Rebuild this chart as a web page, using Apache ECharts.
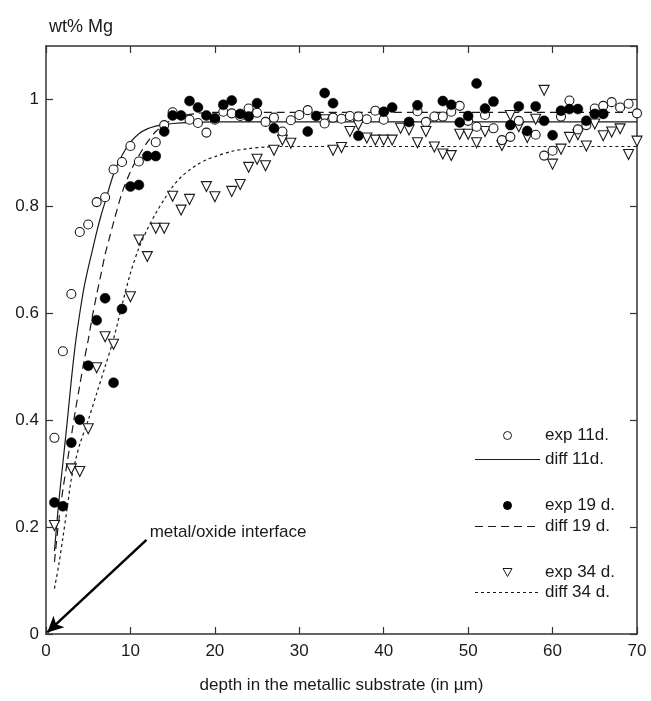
<!DOCTYPE html>
<html>
<head>
<meta charset="UTF-8">
<title>wt% Mg</title>
<style>
  html, body { margin: 0; padding: 0; background: #fff; }
  #main { width: 651px; height: 701px; }
</style>
</head>
<body>
<div id="main"></div>
<script src="https://cdn.jsdelivr.net/npm/echarts@6/dist/echarts.min.js"></script>
<script>
// measured points, depth (um) / wt% Mg
var exp11X = [1,2,3,4,5,6,7,8,9,10,11,13,14,15,17,18,19,20,21,22,23,24,25,26,27,28,29,30,31,33,34,35,36,37,38,39,40,44,45,46,47,48,49,50,51,52,53,54,55,56,58,59,60,61,62,63,64,65,66,67,68,69,70];
var exp11Y = [0.367,0.529,0.636,0.752,0.766,0.808,0.817,0.869,0.883,0.913,0.884,0.920,0.952,0.976,0.962,0.956,0.938,0.962,0.977,0.974,0.969,0.983,0.975,0.958,0.966,0.940,0.961,0.971,0.980,0.955,0.966,0.964,0.969,0.968,0.963,0.979,0.962,0.978,0.958,0.968,0.968,0.977,0.988,0.960,0.949,0.971,0.946,0.924,0.930,0.960,0.934,0.895,0.904,0.968,0.998,0.944,0.952,0.983,0.988,0.995,0.985,0.992,0.974];

var exp19X = [1,2,3,4,5,6,7,8,9,10,11,12,13,14,15,16,17,18,19,20,21,22,23,24,25,27,31,32,33,34,37,40,41,43,44,47,48,49,50,51,52,53,55,56,57,58,59,60,61,62,63,64,65,66];
var exp19Y = [0.246,0.239,0.358,0.401,0.502,0.587,0.628,0.470,0.608,0.837,0.840,0.894,0.894,0.940,0.970,0.970,0.997,0.985,0.970,0.965,0.990,0.998,0.973,0.968,0.993,0.946,0.940,0.969,1.012,0.993,0.932,0.977,0.985,0.958,0.989,0.997,0.990,0.957,0.969,1.030,0.983,0.996,0.952,0.987,0.941,0.987,0.960,0.933,0.979,0.982,0.982,0.960,0.973,0.973];

var exp34X = [1,3,4,5,6,7,8,10,11,12,13,14,15,16,17,19,20,22,23,24,25,26,27,28,29,33,34,35,36,37,38,39,40,41,42,43,44,45,46,47,48,49,50,51,52,54,55,56,57,58,59,60,61,62,63,64,65,66,67,68,69,70];
var exp34Y = [0.203,0.309,0.304,0.384,0.498,0.556,0.542,0.631,0.737,0.706,0.759,0.759,0.819,0.793,0.813,0.837,0.818,0.828,0.841,0.873,0.888,0.876,0.905,0.924,0.918,0.962,0.905,0.910,0.940,0.952,0.928,0.924,0.924,0.924,0.946,0.943,0.919,0.940,0.911,0.898,0.895,0.935,0.935,0.919,0.940,0.914,0.970,0.949,0.929,0.963,1.017,0.879,0.907,0.929,0.934,0.913,0.954,0.932,0.939,0.945,0.897,0.922];

// fitted diffusion profiles
var diff11X = [1,1.5,2,2.5,3,3.5,4,4.5,5,5.5,6,6.5,7,8,9,10,11,12,13,14,15,17,20,70];
var diff11Y = [0.155,0.245,0.32,0.395,0.475,0.545,0.6,0.648,0.685,0.718,0.752,0.782,0.808,0.86,0.895,0.92,0.936,0.945,0.95,0.953,0.955,0.957,0.958,0.958];

var diff19X = [1,1.5,2,2.5,3,3.5,4,4.5,5,5.5,6,6.5,7,7.5,8,9,10,11,12,13,14,15,16,18,20,70];
var diff19Y = [0.135,0.21,0.27,0.32,0.37,0.42,0.465,0.51,0.55,0.595,0.635,0.672,0.71,0.74,0.77,0.825,0.865,0.895,0.92,0.94,0.953,0.963,0.969,0.974,0.976,0.976];

var diff34X = [1,1.5,2,2.5,3,3.5,4,5,6,7,8,9,10,11,12,13,14,15,16,17,18,19,20,22,24,26,28,70];
var diff34Y = [0.085,0.128,0.18,0.235,0.29,0.325,0.355,0.4,0.45,0.5,0.552,0.615,0.675,0.722,0.757,0.787,0.813,0.837,0.855,0.868,0.879,0.887,0.893,0.903,0.908,0.911,0.912,0.912];

var xTicks = {min: 0, max: 70, step: 10};
var yTicks = {min: 0, max: 1.1, step: 0.2};

function pairs(xs, ys) {
  return xs.map(function (x, i) { return [x, ys[i]]; });
}

var font = "'Liberation Sans', Arial, sans-serif";
var ink = '#1a1a1a';

// legend glyphs: line samples and the open down-triangle
var iconSolid = 'path://M0,0h65v1.2h-65z';
var iconDash = 'path://M0,0h8v1.2h-8z M13,0h8v1.2h-8z M26,0h8v1.2h-8z M39,0h8v1.2h-8z M52,0h8v1.2h-8z M65,0h0.01v1.2h-0.01z';
var iconDot = 'path://M0,0h3v1.2h-3z M6,0h3v1.2h-3z M12,0h3v1.2h-3z M18,0h3v1.2h-3z M24,0h3v1.2h-3z M30,0h3v1.2h-3z M36,0h3v1.2h-3z M42,0h3v1.2h-3z M48,0h3v1.2h-3z M54,0h3v1.2h-3z M60,0h3v1.2h-3z M65,0h0.01v1.2h-0.01z';
var iconTri = 'path://M0,0L10,0L5,9Z';

var chart = echarts.init(document.getElementById('main'));

function axisBase(pos, showLabel) {
  return {
    type: 'value',
    position: pos,
    axisLine: { show: true, onZero: false, lineStyle: { color: '#333', width: 1.5 } },
    axisTick: { show: true, inside: true, length: 7, lineStyle: { color: '#333', width: 1.2 } },
    axisLabel: { show: showLabel, color: ink, fontSize: 17, fontFamily: font, showMaxLabel: false },
    splitLine: { show: false }
  };
}

var xBottom = axisBase('bottom', true);
xBottom.min = xTicks.min; xBottom.max = xTicks.max; xBottom.interval = xTicks.step;
xBottom.axisLabel.margin = 9;
xBottom.axisLabel.showMaxLabel = true;
xBottom.name = 'depth in the metallic substrate (in µm)';
xBottom.nameLocation = 'middle';
xBottom.nameGap = 43;
xBottom.nameTextStyle = { color: ink, fontSize: 17, fontFamily: font };

var xTop = axisBase('top', false);
xTop.min = xTicks.min; xTop.max = xTicks.max; xTop.interval = xTicks.step;

var yLeft = axisBase('left', true);
yLeft.min = yTicks.min; yLeft.max = yTicks.max; yLeft.interval = yTicks.step;
yLeft.axisLabel.margin = 7;

var yRight = axisBase('right', false);
yRight.min = yTicks.min; yRight.max = yTicks.max; yRight.interval = yTicks.step;

function legendBox(items, top, gap) {
  return {
    data: items,
    orient: 'vertical',
    left: 470,
    top: top,
    itemWidth: 65,
    itemHeight: 8,
    itemGap: gap,
    symbolRotate: 0,
    selectedMode: false,
    itemStyle: { borderWidth: 1 },
    textStyle: { color: ink, fontSize: 17, fontFamily: font }
  };
}

chart.setOption({
  animation: false,
  backgroundColor: '#fff',
  title: {
    text: 'wt% Mg',
    left: 44,
    top: 13,
    textStyle: { color: ink, fontSize: 18, fontWeight: 'normal', fontFamily: font }
  },
  grid: { left: 46, right: 14, top: 46, bottom: 67 },
  legend: [
    legendBox([{ name: 'exp 11d.', icon: 'circle' }, { name: 'diff 11d.', icon: iconSolid }], 422, 7),
    legendBox([{ name: 'exp 19 d.', icon: 'circle' }, { name: 'diff 19 d.', icon: iconDash }], 492, 4),
    legendBox([{ name: 'exp 34 d.', icon: iconTri }, { name: 'diff 34 d.', icon: iconDot }], 559, 3)
  ],
  xAxis: [xBottom, xTop],
  yAxis: [yLeft, yRight],
  series: [
    {
      name: 'diff 11d.',
      type: 'line',
      data: pairs(diff11X, diff11Y),
      smooth: 0.3,
      symbol: 'none',
      lineStyle: { color: ink, width: 1.2, type: 'solid' },
      itemStyle: { color: ink },
      z: 2,
      markLine: {
        silent: true,
        symbol: ['none', 'arrow'],
        symbolSize: [12, 16],
        lineStyle: { color: '#000', width: 2.5, type: 'solid' },
        label: { show: false },
        data: [[{ coord: [11.9, 0.176] }, { coord: [0.15, 0.003] }]]
      },
      markPoint: {
        silent: true,
        symbol: 'circle',
        symbolSize: 0,
        label: {
          show: true, position: 'right', distance: 4,
          formatter: 'metal/oxide interface',
          color: ink, fontSize: 17, fontFamily: font
        },
        data: [{ coord: [11.8, 0.19] }]
      }
    },
    {
      name: 'diff 19 d.',
      type: 'line',
      data: pairs(diff19X, diff19Y),
      smooth: 0.3,
      symbol: 'none',
      lineStyle: { color: ink, width: 1.2, type: [8, 5] },
      itemStyle: { color: ink },
      z: 2
    },
    {
      name: 'diff 34 d.',
      type: 'line',
      data: pairs(diff34X, diff34Y),
      smooth: 0.3,
      symbol: 'none',
      lineStyle: { color: ink, width: 1.2, type: [3, 3] },
      itemStyle: { color: ink },
      z: 2
    },
    {
      name: 'exp 34 d.',
      type: 'scatter',
      data: pairs(exp34X, exp34Y),
      symbol: 'triangle',
      symbolRotate: 180,
      symbolSize: 10,
      itemStyle: { color: '#fff', borderColor: ink, borderWidth: 1.1, opacity: 1 },
      z: 3
    },
    {
      name: 'exp 11d.',
      type: 'scatter',
      data: pairs(exp11X, exp11Y),
      symbol: 'circle',
      symbolSize: 9,
      itemStyle: { color: '#fff', borderColor: ink, borderWidth: 1.1, opacity: 1 },
      z: 4
    },
    {
      name: 'exp 19 d.',
      type: 'scatter',
      data: pairs(exp19X, exp19Y),
      symbol: 'circle',
      symbolSize: 10,
      itemStyle: { color: '#000', borderColor: '#000', borderWidth: 0.5, opacity: 1 },
      z: 5
    }
  ]
});
</script>
</body>
</html>
